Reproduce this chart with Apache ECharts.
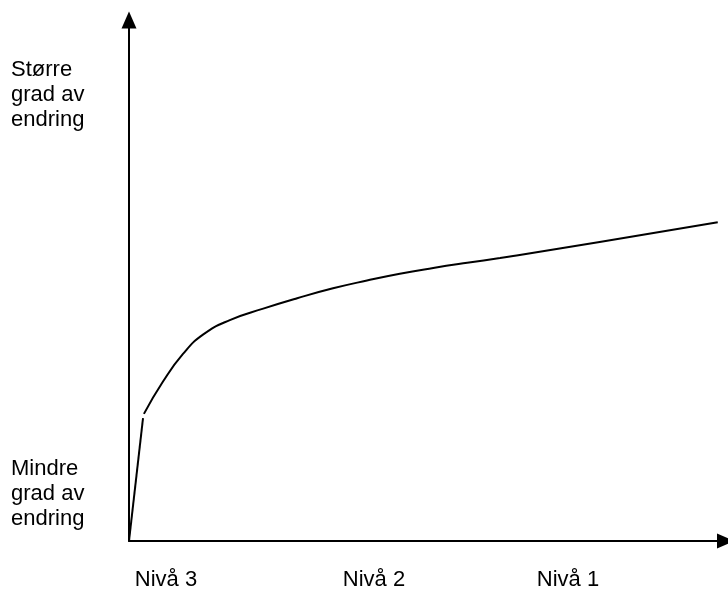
<!DOCTYPE html>
<html>
<head>
<meta charset="utf-8">
<script src="https://cdn.jsdelivr.net/npm/echarts@6/dist/echarts.min.js"></script>
<style>html,body{margin:0;padding:0;background:#fff;}#c{width:728px;height:593px;}</style>
</head>
<body>
<div id="c"></div>
<script>
// Data (conceptual scale 0-100 on both axes)
var steepX = [0, 2.35];
var steepY = [0, 23.6];
var curveX = [2.5, 5.7, 9.05, 12.4, 16.9, 22.5, 28.2, 34.2, 39.9, 45.4, 51.0, 56.7, 62.2, 65.5, 78.9, 98.7];
var curveY = [24.4, 30.6, 35.9, 39.6, 42.4, 44.6, 46.6, 48.5, 50.0, 51.3, 52.4, 53.4, 54.3, 54.9, 57.4, 61.2];
var xLabels = ['Nivå 3', 'Nivå 2', 'Nivå 1'];
var topLabel = ['Større', 'grad av', 'endring'];
var bottomLabel = ['Mindre', 'grad av', 'endring'];

var FONT = "'Liberation Sans', Arial, sans-serif";
function zip(a, b) { return a.map(function (v, i) { return [v, b[i]]; }); }

var chart = echarts.init(document.getElementById('c'), null, {renderer: 'canvas'});

var xLabelCenters = [166, 374, 568];
var graphics = [];
xLabels.forEach(function (t, i) {
  graphics.push({type: 'text', x: xLabelCenters[i], y: 579.5,
    style: {text: t, font: '22px ' + FONT, fill: '#000', textAlign: 'center', verticalAlign: 'middle'}});
});
var topBase = [78, 103, 128];
topLabel.forEach(function (t, i) {
  graphics.push({type: 'text', x: 11, y: topBase[i] - 7.7,
    style: {text: t, font: '22px ' + FONT, fill: '#000', textAlign: 'left', verticalAlign: 'middle'}});
});
var botBase = [477, 502, 527];
bottomLabel.forEach(function (t, i) {
  graphics.push({type: 'text', x: 11, y: botBase[i] - 7.7,
    style: {text: t, font: '22px ' + FONT, fill: '#000', textAlign: 'left', verticalAlign: 'middle'}});
});

var axisCommon = {
  type: 'value', min: 0, max: 100,
  axisLabel: {show: false}, axisTick: {show: false}, splitLine: {show: false},
  axisLine: {show: true, symbol: ['none', 'triangle'], symbolSize: [15, 17],
    lineStyle: {color: '#000', width: 2}}
};

chart.setOption({
  animation: false,
  backgroundColor: '#fff',
  grid: {left: 129, top: 20, right: 2.5, bottom: 52, containLabel: false},
  xAxis: axisCommon,
  yAxis: axisCommon,
  graphic: graphics,
  series: [
    {type: 'line', data: zip(steepX, steepY), symbol: 'none', smooth: false,
      lineStyle: {color: '#000', width: 2}},
    {type: 'line', data: zip(curveX, curveY), symbol: 'none', smooth: 0.5,
      lineStyle: {color: '#000', width: 2}}
  ]
});
</script>
</body>
</html>
